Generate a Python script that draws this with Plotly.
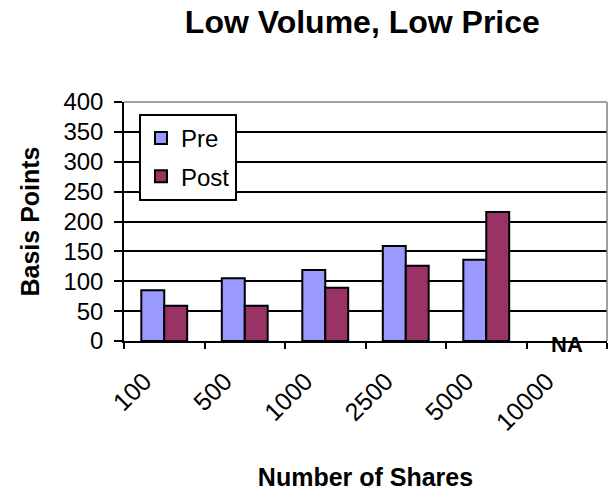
import plotly.graph_objects as go

categories = ["100", "500", "1000", "2500", "5000", "10000"]
pre_values = [85, 105, 119, 159, 136, None]
post_values = [59, 59, 89, 126, 216, None]
y_ticks = [0, 50, 100, 150, 200, 250, 300, 350, 400]
na_category = "10000"

FONT = "Liberation Sans, Arial, sans-serif"

fig = go.Figure()
fig.add_trace(go.Bar(x=categories, y=pre_values, name="Pre", legendgroup="pre",
                     marker=dict(color="#9999FF", line=dict(color="black", width=2))))
fig.add_trace(go.Bar(x=categories, y=post_values, name="Post", legendgroup="post",
                     marker=dict(color="#993366", line=dict(color="black", width=2))))

fig.add_annotation(x=categories.index(na_category), y=0, text="<b>NA</b>", showarrow=False,
                   yanchor="middle", yshift=-3, font=dict(family=FONT, size=22, color="black"))

fig.add_shape(type="line", xref="paper", yref="paper", x0=0, x1=1, y0=1, y1=1,
              line=dict(color="#808080", width=1.5), layer="above")
fig.add_shape(type="line", xref="paper", yref="paper", x0=1, x1=1, y0=0, y1=1,
              line=dict(color="#808080", width=1.5), layer="above")

fig.update_layout(
    width=610, height=493,
    margin=dict(l=124, r=3, t=102, b=152, autoexpand=False),
    paper_bgcolor="white", plot_bgcolor="white",
    font=dict(family=FONT, color="black"),
    title=dict(text="<b>Low Volume, Low Price</b>", x=0.594, xanchor="center",
               y=0.955, yanchor="middle", font=dict(family=FONT, size=32, color="black")),
    barmode="group", bargap=0.43, bargroupgap=0,
    showlegend=True,
    legend=dict(x=0.031, y=0.95, xanchor="left", yanchor="top",
                bgcolor="white", bordercolor="black", borderwidth=2,
                font=dict(family=FONT, size=24, color="black"),
                traceorder="grouped", tracegroupgap=4),
    xaxis=dict(type="category", range=[-0.5, len(categories) - 0.5], automargin=False,
               showline=True, linecolor="black", linewidth=1.5,
               ticks="outside", tickson="boundaries", ticklen=6, tickwidth=1.5, tickcolor="black",
               tickangle=-45, tickfont=dict(family=FONT, size=25, color="black"),
               ticklabelshift=-20, ticklabelstandoff=14,
               showgrid=False,
               title=dict(text="<b>Number of Shares</b>", font=dict(family=FONT, size=25, color="black"),
                          standoff=34)),
    yaxis=dict(range=[0, 400], tickvals=y_ticks, automargin=False,
               showline=True, linecolor="black", linewidth=1.5,
               ticks="outside", ticklen=8, tickwidth=1.5, tickcolor="black",
               tickfont=dict(family=FONT, size=24, color="black"), ticklabelstandoff=6,
               showgrid=True, gridcolor="black", gridwidth=1.5, zeroline=False,
               title=dict(text="<b>Basis Points</b>", font=dict(family=FONT, size=25, color="black"),
                          standoff=17)),
)

fig.write_html("out.html", config={"displayModeBar": False},
               post_script="document.body.style.margin='0';document.body.style.padding='0';")
